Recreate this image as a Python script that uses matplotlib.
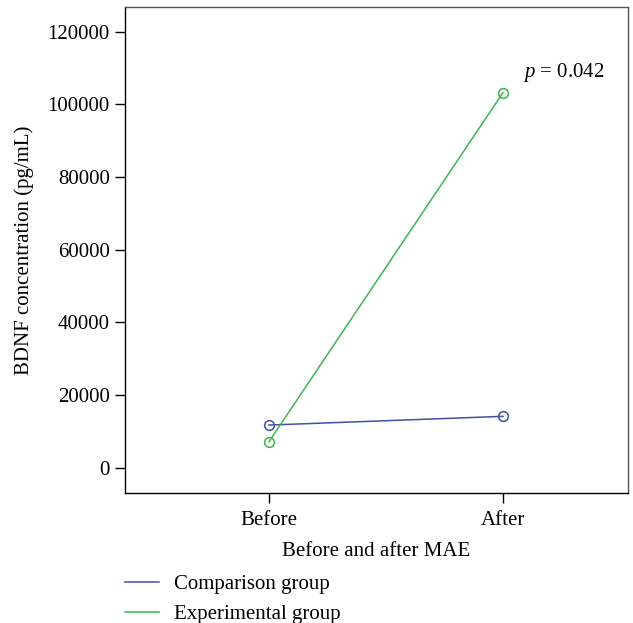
import matplotlib.pyplot as plt
from matplotlib.lines import Line2D

plt.rcParams['font.family'] = ['Liberation Serif', 'DejaVu Serif']
plt.rcParams['font.size'] = 15
plt.rcParams['mathtext.fontset'] = 'custom'
plt.rcParams['mathtext.it'] = 'Liberation Serif:italic'
plt.rcParams['mathtext.rm'] = 'Liberation Serif'

timepoints = ['Before', 'After']
comparison = [11750, 14150]
experimental = [7150, 103200]

BLUE = '#3f52a3'
GREEN = '#3db54a'

fig = plt.figure(figsize=(6.33, 6.23), dpi=100)
ax = fig.add_axes([0.1975, 0.209, 0.7945, 0.78])

x = range(len(timepoints))
ax.plot(x, comparison, color=BLUE, lw=1.1, marker='o', ms=7, mfc='none', mew=1.1)
ax.plot(x, experimental, color=GREEN, lw=1.1, marker='o', ms=7, mfc='none', mew=1.1)

ax.text(1.085, experimental[1] + 5500, r'$p$ = 0.042', ha='left', va='center')

ax.set_xlim(-0.615, 1.534)
ax.set_ylim(-6880, 126800)
ax.set_xticks(list(x))
ax.set_xticklabels(timepoints)
ax.set_yticks(range(0, 120001, 20000))
ax.tick_params(length=7, width=1, direction='out', pad=4)
ax.tick_params(axis='x', pad=6)
for s in ['top', 'right']:
    ax.spines[s].set_color('#555555')
for s in ax.spines.values():
    s.set_linewidth(1)

ax.set_xlabel('Before and after MAE', labelpad=9)
ax.set_ylabel('BDNF concentration (pg/mL)', labelpad=10)

handles = [Line2D([], [], color=BLUE, lw=1.1), Line2D([], [], color=GREEN, lw=1.1)]
fig.legend(handles, ['Comparison group', 'Experimental group'], loc='upper left',
           bbox_to_anchor=(0.1975, 0.078), frameon=False, borderaxespad=0, borderpad=0,
           handlelength=1.65, handletextpad=0.7, labelspacing=0.5)

fig.savefig('out.png', dpi=100)
